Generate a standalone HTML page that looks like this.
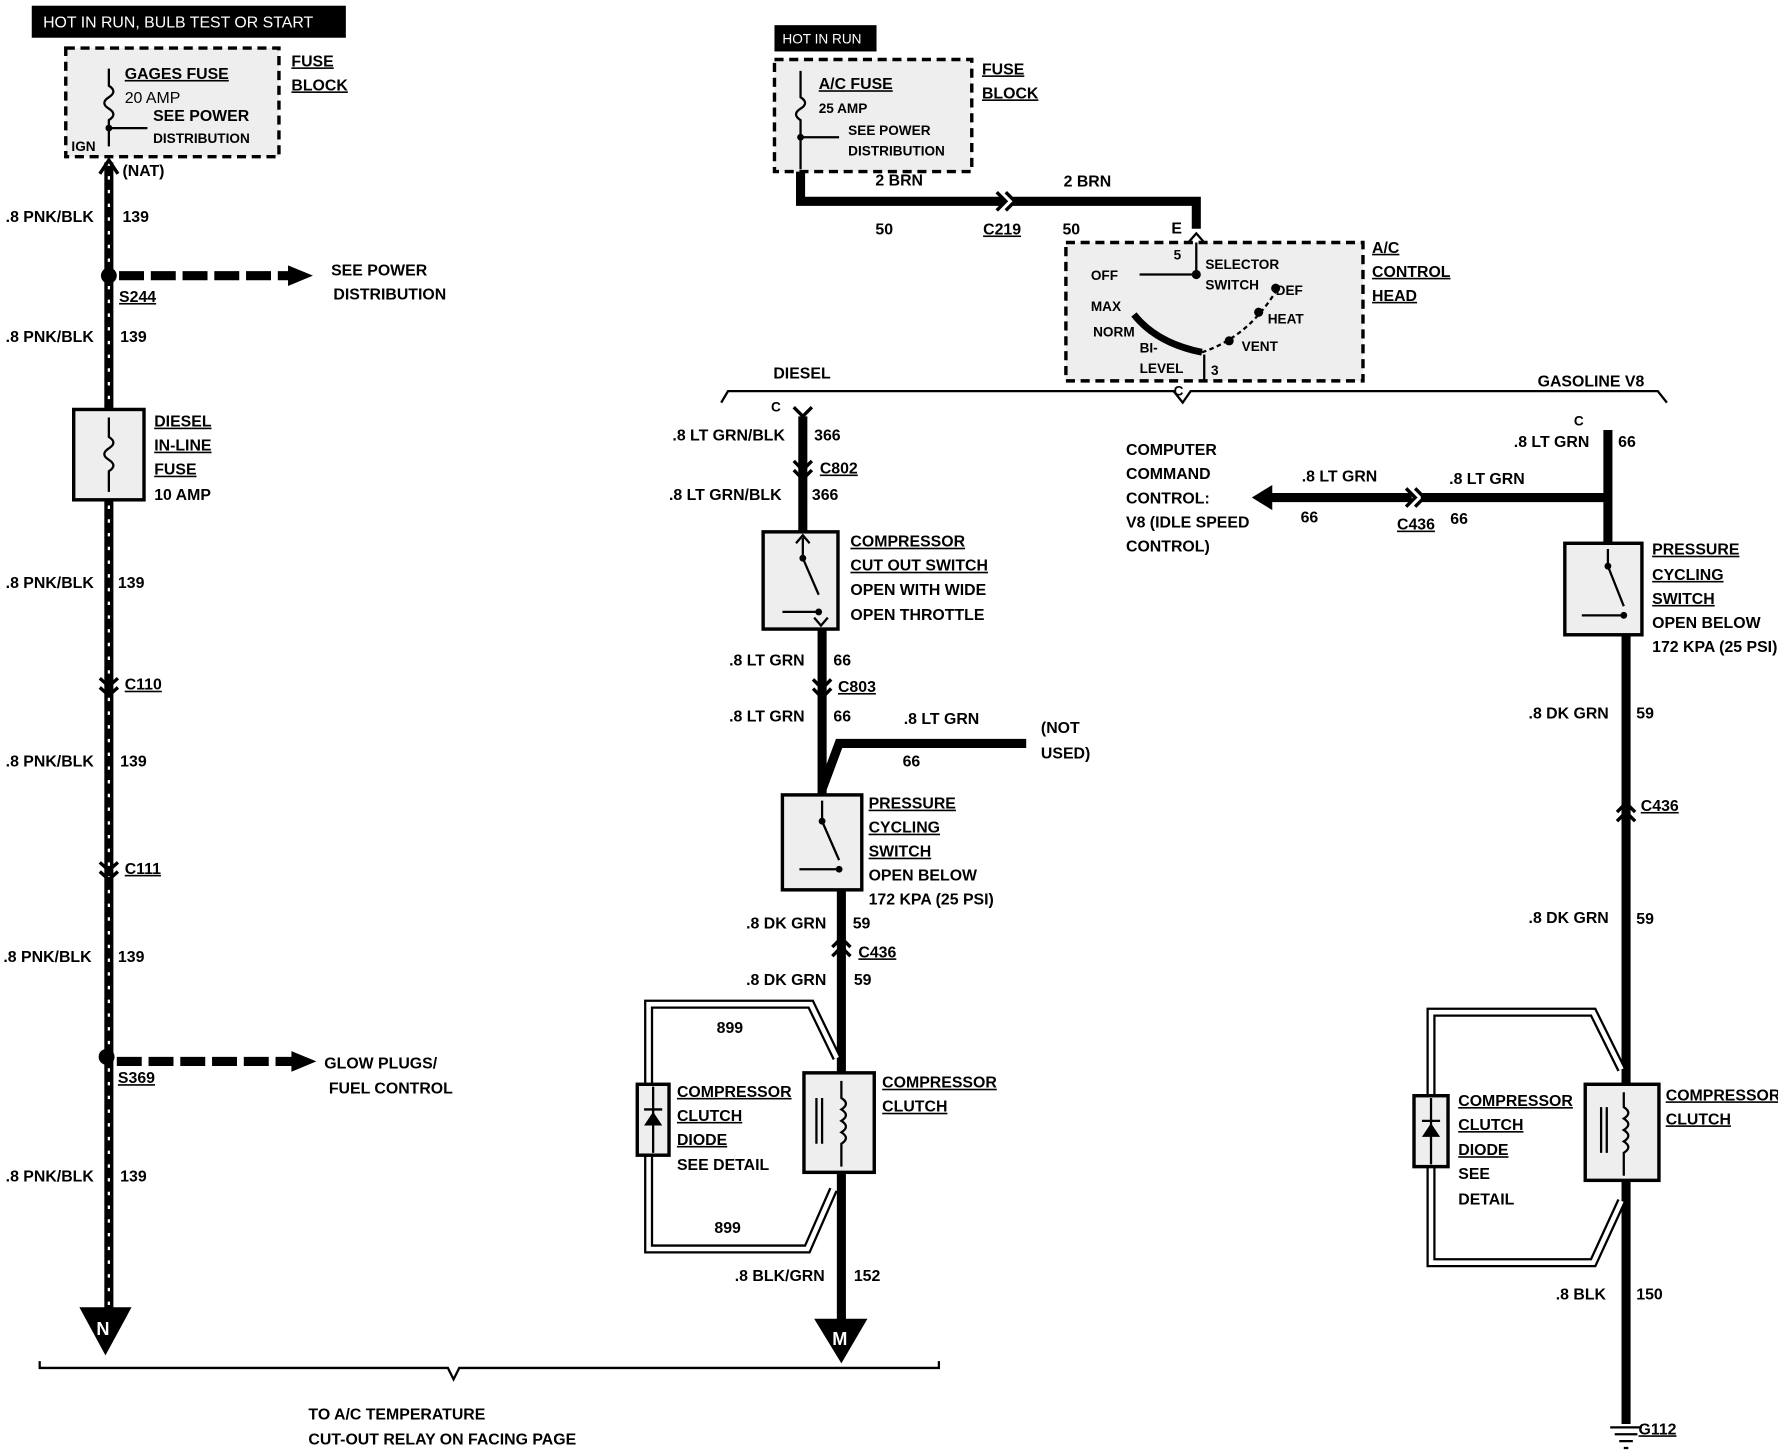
<!DOCTYPE html>
<html><head><meta charset="utf-8"><style>
html,body{margin:0;padding:0;background:#fff;}
svg{display:block;}
text{font-family:"Liberation Sans",sans-serif;font-weight:bold;font-size:14px;fill:#000;}
.u{text-decoration:underline;}
</style></head><body>
<svg width="1778" height="1456" viewBox="0 0 1568 1273" preserveAspectRatio="none" xmlns="http://www.w3.org/2000/svg">
<rect width="1568" height="1273" fill="#fff"/>
<!-- LEFT -->
<rect x="28" y="5" width="277" height="28" fill="#000"/>
<text x="38" y="24" style="fill:#fff;font-weight:normal">HOT IN RUN, BULB TEST OR START</text>
<rect x="58" y="42" width="188" height="95" fill="#eee" stroke="#000" stroke-width="3" stroke-dasharray="8,5"/>
<text x="110" y="69" class="u">GAGES FUSE</text><text x="110" y="90" style="font-weight:normal">20 AMP</text>
<text x="135" y="106">SEE POWER</text><text x="135" y="125" style="font-size:12px">DISTRIBUTION</text>
<text x="63" y="132" style="font-size:12px">IGN</text>
<path d="M96 60 V75 q8 5 0 10 q-8 5 0 10 q8 5 0 10 V128" fill="none" stroke="#000" stroke-width="2"/>
<circle cx="96" cy="112" r="3"/><line x1="96" y1="112" x2="130" y2="112" stroke="#000" stroke-width="2"/>
<text x="257" y="58" class="u">FUSE</text><text x="257" y="79" class="u">BLOCK</text>
<line x1="96" y1="142" x2="96" y2="1148" stroke="#000" stroke-width="8"/>
<line x1="96" y1="142" x2="96" y2="1148" stroke="#fff" stroke-width="2" stroke-dasharray="3,9"/>
<path d="M88 152 L96 140 L104 152" fill="none" stroke="#000" stroke-width="3"/>
<text x="108" y="154">(NAT)</text>
<text x="5" y="194">.8 PNK/BLK</text><text x="108" y="194">139</text>
<circle cx="96" cy="241" r="7"/>
<line x1="105" y1="241" x2="255" y2="241" stroke="#000" stroke-width="8" stroke-dasharray="22,6"/>
<path d="M254 232 L276 241 L254 250Z"/>
<text x="292" y="241">SEE POWER</text><text x="294" y="262">DISTRIBUTION</text>
<text x="105" y="264" class="u">S244</text>
<text x="5" y="299">.8 PNK/BLK</text><text x="106" y="299">139</text>
<rect x="65" y="358" width="62" height="79" fill="#eee" stroke="#000" stroke-width="3"/>
<path d="M96 365 V382 q8 5 0 10 q-8 5 0 10 q8 5 0 10 V430" fill="none" stroke="#000" stroke-width="2"/>
<text x="136" y="373" class="u">DIESEL</text><text x="136" y="394" class="u">IN-LINE</text>
<text x="136" y="415" class="u">FUSE</text><text x="136" y="437">10 AMP</text>
<text x="5" y="514">.8 PNK/BLK</text><text x="104" y="514">139</text>
<path d="M88 593 L96 600 L104 593 M88 601 L96 608 L104 601" fill="none" stroke="#000" stroke-width="3"/>
<text x="110" y="603" class="u">C110</text>
<text x="5" y="670">.8 PNK/BLK</text><text x="106" y="670">139</text>
<path d="M88 754 L96 761 L104 754 M88 762 L96 769 L104 762" fill="none" stroke="#000" stroke-width="3"/>
<text x="110" y="764" class="u">C111</text>
<text x="3" y="841">.8 PNK/BLK</text><text x="104" y="841">139</text>
<circle cx="94" cy="924" r="7"/>
<line x1="103" y1="928" x2="258" y2="928" stroke="#000" stroke-width="8" stroke-dasharray="22,6"/>
<path d="M257 919 L279 928 L257 937Z"/>
<text x="286" y="934">GLOW PLUGS/</text><text x="290" y="956">FUEL CONTROL</text>
<text x="104" y="947" class="u">S369</text>
<text x="5" y="1033">.8 PNK/BLK</text><text x="106" y="1033">139</text>
<path d="M70 1143 L116 1143 L93 1185Z"/>
<text x="85" y="1167" style="fill:#fff;font-size:16px">N</text>
<path d="M35 1190 V1196 H395 L400 1206 L405 1196 H828 V1190" fill="none" stroke="#000" stroke-width="2"/>
<text x="272" y="1241">TO A/C TEMPERATURE</text><text x="272" y="1263">CUT-OUT RELAY ON FACING PAGE</text>
<!-- MIDDLE TOP -->
<rect x="683" y="22" width="90" height="23" fill="#000"/>
<text x="690" y="38" style="fill:#fff;font-size:12px;font-weight:normal">HOT IN RUN</text>
<rect x="683" y="52" width="174" height="98" fill="#eee" stroke="#000" stroke-width="3" stroke-dasharray="8,5"/>
<path d="M706 62 V85 q8 5 0 10 q-8 5 0 10 V148" fill="none" stroke="#000" stroke-width="2"/>
<circle cx="706" cy="120" r="3"/><line x1="706" y1="120" x2="740" y2="120" stroke="#000" stroke-width="2"/>
<text x="722" y="78" class="u">A/C FUSE</text><text x="722" y="99" style="font-size:12px">25 AMP</text>
<text x="748" y="118" style="font-size:12px">SEE POWER</text><text x="748" y="136" style="font-size:12px">DISTRIBUTION</text>
<text x="866" y="65" class="u">FUSE</text><text x="866" y="86" class="u">BLOCK</text>
<path d="M706 150 V176 H885 M893 176 H1055 V200" fill="none" stroke="#000" stroke-width="8"/>
<path d="M879 168 L887 176 L879 184 M887 168 L895 176 L887 184" fill="none" stroke="#000" stroke-width="3"/>
<text x="772" y="162">2 BRN</text><text x="938" y="163">2 BRN</text>
<text x="772" y="205">50</text><text x="867" y="205" class="u">C219</text><text x="937" y="205">50</text>
<text x="1033" y="204">E</text>
<rect x="940" y="212" width="262" height="121" fill="#eee" stroke="#000" stroke-width="3" stroke-dasharray="8,5"/>
<path d="M1048 212 L1055 204 L1062 212" fill="none" stroke="#000" stroke-width="2"/>
<line x1="1055" y1="212" x2="1055" y2="240" stroke="#000" stroke-width="2"/>
<line x1="1055" y1="240" x2="1005" y2="240" stroke="#000" stroke-width="2"/>
<circle cx="1055" cy="240" r="4"/>
<path d="M1000 275 Q1020 300 1060 308" fill="none" stroke="#000" stroke-width="6"/>
<path d="M1060 308 Q1100 295 1125 255" fill="none" stroke="#000" stroke-width="2" stroke-dasharray="4,3"/>
<circle cx="1084" cy="298" r="4"/><circle cx="1110" cy="273" r="4"/><circle cx="1125" cy="252" r="4"/>
<line x1="1062" y1="310" x2="1062" y2="332" stroke="#000" stroke-width="2"/>
<text x="962" y="245" style="font-size:12px">OFF</text><text x="1035" y="227" style="font-size:12px">5</text>
<text x="1063" y="235" style="font-size:12px">SELECTOR</text><text x="1063" y="253" style="font-size:12px">SWITCH</text>
<text x="1125" y="258" style="font-size:12px">DEF</text><text x="962" y="272" style="font-size:12px">MAX</text>
<text x="1118" y="283" style="font-size:12px">HEAT</text><text x="964" y="294" style="font-size:12px">NORM</text>
<text x="1005" y="308" style="font-size:12px">BI-</text><text x="1095" y="307" style="font-size:12px">VENT</text>
<text x="1005" y="326" style="font-size:12px">LEVEL</text><text x="1068" y="328" style="font-size:12px">3</text>
<text x="1210" y="221" class="u">A/C</text><text x="1210" y="242" class="u">CONTROL</text><text x="1210" y="263" class="u">HEAD</text>
<text x="1035" y="346" style="font-size:12px">C</text>
<path d="M636 352 L642 342 H1035 L1043 352 L1050 342 H1462 L1470 352" fill="none" stroke="#000" stroke-width="2"/>
<text x="682" y="331">DIESEL</text><text x="1356" y="338">GASOLINE V8</text>
<!-- DIESEL -->
<text x="680" y="360" style="font-size:12px">C</text>
<path d="M708 364 V465 M725 550 V690 L740 650 H905 M725 690 V695 M742 778 V940 M742 1025 V1160" fill="none" stroke="#000" stroke-width="8"/>
<path d="M700 356 L708 364 L716 356" fill="none" stroke="#000" stroke-width="3"/>
<text x="593" y="385">.8 LT GRN/BLK</text><text x="718" y="385">366</text>
<path d="M700 403 L708 411 L716 403 M700 411 L708 419 L716 411" fill="none" stroke="#000" stroke-width="3"/>
<text x="723" y="414" class="u">C802</text>
<text x="590" y="437">.8 LT GRN/BLK</text><text x="716" y="437">366</text>
<rect x="673" y="465" width="66" height="85" fill="#eee" stroke="#000" stroke-width="3"/>
<path d="M708 470 V488 L722 520 M722 535 H690" fill="none" stroke="#000" stroke-width="2"/>
<path d="M702 475 L708 468 L714 475 M718 540 L724 547 L730 540" fill="none" stroke="#000" stroke-width="2"/>
<circle cx="708" cy="488" r="3"/><circle cx="722" cy="535" r="3"/>
<text x="750" y="478" class="u">COMPRESSOR</text><text x="750" y="499" class="u">CUT OUT SWITCH</text>
<text x="750" y="520">OPEN WITH WIDE</text><text x="750" y="542">OPEN THROTTLE</text>
<text x="643" y="582">.8 LT GRN</text><text x="735" y="582">66</text>
<path d="M717 594 L725 602 L733 594 M717 602 L725 610 L733 602" fill="none" stroke="#000" stroke-width="3"/>
<text x="739" y="605" class="u">C803</text>
<text x="643" y="631">.8 LT GRN</text><text x="735" y="631">66</text>
<text x="797" y="633">.8 LT GRN</text><text x="796" y="670">66</text>
<text x="918" y="641">(NOT</text><text x="918" y="663">USED)</text>
<rect x="690" y="695" width="70" height="83" fill="#eee" stroke="#000" stroke-width="3"/>
<path d="M725 700 V718 L740 752 M740 760 H705" fill="none" stroke="#000" stroke-width="2"/>
<circle cx="725" cy="718" r="3"/><circle cx="740" cy="760" r="3"/>
<text x="766" y="707" class="u">PRESSURE</text><text x="766" y="728" class="u">CYCLING</text>
<text x="766" y="749" class="u">SWITCH</text><text x="766" y="770">OPEN BELOW</text><text x="766" y="791">172 KPA (25 PSI)</text>
<text x="658" y="812">.8 DK GRN</text><text x="752" y="812">59</text>
<path d="M734 828 L742 820 L750 828 M734 836 L742 828 L750 836" fill="none" stroke="#000" stroke-width="3"/>
<text x="757" y="837" class="u">C436</text>
<text x="658" y="861">.8 DK GRN</text><text x="753" y="861">59</text>
<path d="M738 925 L715 878 H572 V1092 H712 L735 1040" fill="none" stroke="#000" stroke-width="8"/>
<path d="M738 925 L715 878 H572 V1092 H712 L735 1040" fill="none" stroke="#fff" stroke-width="4"/>
<text x="632" y="903">899</text><text x="630" y="1078">899</text>
<rect x="562" y="948" width="28" height="62" fill="#eee" stroke="#000" stroke-width="3"/>
<line x1="576" y1="950" x2="576" y2="1008" stroke="#000" stroke-width="2"/>
<path d="M568 984 L584 984 L576 972Z"/><line x1="568" y1="970" x2="584" y2="970" stroke="#000" stroke-width="2"/>
<text x="597" y="959" class="u">COMPRESSOR</text><text x="597" y="980" class="u">CLUTCH</text>
<text x="597" y="1001" class="u">DIODE</text><text x="597" y="1023">SEE DETAIL</text>
<rect x="709" y="938" width="62" height="87" fill="#eee" stroke="#000" stroke-width="3"/>
<path d="M742 945 V960 q8 5 0 10 q8 5 0 10 q8 5 0 10 q8 5 0 10 V1020" fill="none" stroke="#000" stroke-width="2"/>
<path d="M720 960 V1000 M725 960 V1000" stroke="#000" stroke-width="2"/>
<text x="778" y="951" class="u">COMPRESSOR</text><text x="778" y="972" class="u">CLUTCH</text>
<text x="648" y="1120">.8 BLK/GRN</text><text x="753" y="1120">152</text>
<path d="M718 1153 L765 1153 L742 1192Z"/>
<text x="734" y="1176" style="fill:#fff;font-size:16px">M</text>
<!-- GASOLINE -->
<text x="1388" y="372" style="font-size:12px">C</text>
<path d="M1418 376 V435 H1253 M1245 435 H1120 M1418 435 L1418 475 M1434 555 V1245" fill="none" stroke="#000" stroke-width="8"/>
<path d="M1122 424 L1104 435 L1122 446Z"/>
<path d="M1240 427 L1248 435 L1240 443 M1248 427 L1256 435 L1248 443" fill="none" stroke="#000" stroke-width="3"/>
<text x="1335" y="391">.8 LT GRN</text><text x="1427" y="391">66</text>
<text x="1148" y="421">.8 LT GRN</text><text x="1278" y="423">.8 LT GRN</text>
<text x="1147" y="457">66</text><text x="1232" y="463" class="u">C436</text><text x="1279" y="458">66</text>
<text x="993" y="398">COMPUTER</text><text x="993" y="419">COMMAND</text><text x="993" y="440">CONTROL:</text>
<text x="993" y="461">V8 (IDLE SPEED</text><text x="993" y="482">CONTROL)</text>
<rect x="1380" y="475" width="68" height="80" fill="#eee" stroke="#000" stroke-width="3"/>
<path d="M1418 480 V495 L1432 530 M1432 538 H1395" fill="none" stroke="#000" stroke-width="2"/>
<circle cx="1418" cy="495" r="3"/><circle cx="1432" cy="538" r="3"/>
<text x="1457" y="485" class="u">PRESSURE</text><text x="1457" y="507" class="u">CYCLING</text>
<text x="1457" y="528" class="u">SWITCH</text><text x="1457" y="549">OPEN BELOW</text><text x="1457" y="570">172 KPA (25 PSI)</text>
<text x="1348" y="628">.8 DK GRN</text><text x="1443" y="628">59</text>
<path d="M1426 710 L1434 702 L1442 710 M1426 718 L1434 710 L1442 718" fill="none" stroke="#000" stroke-width="3"/>
<text x="1447" y="709" class="u">C436</text>
<text x="1348" y="807">.8 DK GRN</text><text x="1443" y="808">59</text>
<path d="M1430 935 L1405 885 H1262 V1104 H1405 L1430 1050" fill="none" stroke="#000" stroke-width="8"/>
<path d="M1430 935 L1405 885 H1262 V1104 H1405 L1430 1050" fill="none" stroke="#fff" stroke-width="4"/>
<rect x="1247" y="958" width="30" height="62" fill="#eee" stroke="#000" stroke-width="3"/>
<line x1="1262" y1="960" x2="1262" y2="1018" stroke="#000" stroke-width="2"/>
<path d="M1254 994 L1270 994 L1262 982Z"/><line x1="1254" y1="980" x2="1270" y2="980" stroke="#000" stroke-width="2"/>
<text x="1286" y="967" class="u">COMPRESSOR</text><text x="1286" y="988" class="u">CLUTCH</text>
<text x="1286" y="1010" class="u">DIODE</text><text x="1286" y="1031">SEE</text><text x="1286" y="1053">DETAIL</text>
<rect x="1398" y="948" width="65" height="84" fill="#eee" stroke="#000" stroke-width="3"/>
<path d="M1432 955 V968 q8 5 0 10 q8 5 0 10 q8 5 0 10 q8 5 0 10 V1028" fill="none" stroke="#000" stroke-width="2"/>
<path d="M1412 968 V1008 M1417 968 V1008" stroke="#000" stroke-width="2"/>
<text x="1469" y="962" class="u">COMPRESSOR</text><text x="1469" y="983" class="u">CLUTCH</text>
<text x="1372" y="1136">.8 BLK</text><text x="1443" y="1136">150</text>
<path d="M1420 1248 H1448 M1424 1254 H1444 M1428 1260 H1440 M1432 1266 H1436" stroke="#000" stroke-width="2"/>
<text x="1445" y="1254" class="u">G112</text>
</svg>
</body></html>
